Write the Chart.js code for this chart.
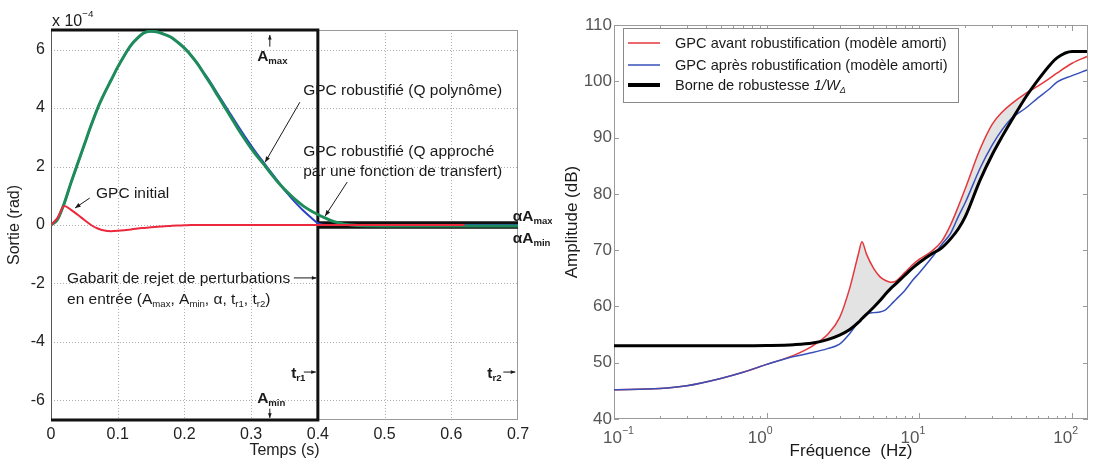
<!DOCTYPE html>
<html lang="fr">
<head>
    <meta charset="UTF-8">
    <title>GPC robustifié - gabarit et borne de robustesse</title>
    <script src="https://cdn.jsdelivr.net/npm/chart.js"></script>
    <style>
        body {
            margin: 0;
            background: #fff;
            width: 1096px;
            height: 462px;
            overflow: hidden;
            position: relative;
        }

        canvas {
            position: absolute;
            top: 0;
        }

        #timeChart { left: 0; }
        #freqChart { left: 552px; }
    </style>
</head>
<body>
    <canvas id="timeChart" width="552" height="462"></canvas>
    <canvas id="freqChart" width="544" height="462"></canvas>

    <script>
        // ---- left: time response (values in 1e-4 rad) ----
        const times = [0, 0.01, 0.02, 0.03, 0.04, 0.05, 0.06, 0.07, 0.08, 0.09,
            0.10, 0.11, 0.12, 0.13, 0.14, 0.15, 0.16, 0.17, 0.18, 0.19,
            0.20, 0.21, 0.22, 0.23, 0.24, 0.25, 0.26, 0.27, 0.28, 0.29,
            0.30, 0.31, 0.32, 0.33, 0.34, 0.35, 0.36, 0.37, 0.38, 0.39,
            0.40, 0.41, 0.42, 0.43, 0.44, 0.45, 0.50, 0.55, 0.60, 0.62, 0.65, 0.70];

        const gpcInitial = [0, 0.25, 0.65, 0.52, 0.35, 0.17, 0, -0.12, -0.19, -0.21,
            -0.2, -0.18, -0.15, -0.12, -0.1, -0.08, -0.06, -0.04, -0.03, -0.02,
            -0.01, 0, 0, 0, 0, 0, 0, 0, 0, 0,
            0, 0, 0, 0, 0, 0, 0, 0, 0, 0,
            0, 0, 0, 0, 0, 0, 0, 0, 0, 0, null, null];

        const gpcPolynome = [0, 0.2, 0.75, 1.45, 2.1, 2.75, 3.4, 4.0, 4.5, 4.95,
            5.4, 5.8, 6.15, 6.4, 6.58, 6.63, 6.6, 6.52, 6.42, 6.25,
            6.05, 5.8, 5.5, 5.18, 4.85, 4.48, 4.12, 3.76, 3.4, 3.05,
            2.72, 2.4, 2.1, 1.8, 1.5, 1.2, 0.93, 0.68, 0.45, 0.25,
            0.06, 0, 0, 0, 0, 0, 0, 0, 0, 0, 0, 0];

        const gpcTransfert = [0, 0.2, 0.75, 1.45, 2.1, 2.75, 3.4, 4.0, 4.5, 4.95,
            5.4, 5.8, 6.15, 6.4, 6.58, 6.63, 6.6, 6.52, 6.42, 6.25,
            6.05, 5.8, 5.5, 5.15, 4.8, 4.42, 4.05, 3.68, 3.3, 2.95,
            2.62, 2.32, 2.05, 1.75, 1.47, 1.22, 1.0, 0.8, 0.62, 0.48,
            0.36, 0.25, 0.15, 0.08, 0.03, 0, -0.03, -0.03, -0.03, -0.03, -0.03, -0.03];

        // gabarit (A_max, A_min, alpha*A_max, alpha*A_min, t_r1, t_r2)
        const gabTimes = [0, 0.4, 0.4, 0.7];
        const gabUpper = [6.67, 6.67, 0.08, 0.08];
        const gabLower = [-6.67, -6.67, -0.08, -0.08];

        const timeTicks = [0, 0.1, 0.2, 0.3, 0.4, 0.5, 0.6, 0.7];
        const sortieTicks = [-6, -4, -2, 0, 2, 4, 6];

        // ---- right: frequency response (dB) ----
        const freqs = [0.1, 0.2, 0.3, 0.5, 0.7, 1, 1.5, 2, 2.5, 3, 3.5, 4, 4.2, 4.5, 5, 5.5, 6, 6.5, 7,
            8, 9, 10, 12, 14, 16, 18, 20, 25, 30, 35, 40, 50, 60, 70, 80, 100, 125];

        const avantRob = [45.2, 45.4, 45.9, 47.2, 48.3, 49.7, 51.3, 53.0, 55.0, 58.0, 63.3, 69.5, 71.5, 69.3, 66.8, 65.3, 64.6, 64.3, 64.5,
            66.0, 67.4, 68.4, 69.8, 71.6, 74.5, 77.8, 81.0, 88.0, 92.4, 94.6, 96.0, 97.9, 99.2, 100.4, 101.5, 103.2, 104.4];

        const apresRob = [45.2, 45.4, 45.9, 47.2, 48.3, 49.7, 51.1, 51.8, 52.5, 53.3, 55.2, 57.3, 57.9, 58.6, 58.9, 59.0, 59.4, 60.3, 61.2,
            62.8, 64.6, 66.0, 68.6, 71.0, 73.0, 76.0, 78.5, 84.6, 88.7, 91.5, 93.4, 95.3, 97.1, 98.5, 99.9, 101.0, 102.0];

        const borne = [53, 53, 53, 53, 53, 53.05, 53.2, 53.5, 54.1, 54.9, 55.9, 57.2, 57.8, 58.6, 59.8, 61.0, 62.2, 63.2, 64.0,
            65.5, 66.8, 67.8, 69.3, 70.4, 72.0, 73.8, 76.0, 82.5, 87.0, 90.3, 93.0, 97.3, 100.3, 102.6, 104.2, 105.3, 105.3];

        const seriesLabels = ['GPC avant robustification (modèle amorti)',
            'GPC après robustification (modèle amorti)',
            'Borne de robustesse 1/WΔ'];

        const freqDecades = [0.1, 1, 10, 100];
        const freqExponents = ['−1', '0', '1', '2'];
        const ampTicks = [40, 50, 60, 70, 80, 90, 100, 110];

        const FONT = 'Arial, "Liberation Sans", Helvetica, sans-serif';

        // draws text pieces: flags b=bold i=italic _=subscript ^=superscript
        function rich(ctx, x, y, parts, size, draw = true) {
            let cx = x;
            for (const [txt, f] of parts) {
                const small = f.includes('_') || f.includes('^');
                const fs = small ? size * 0.62 : size;
                ctx.font = (f.includes('i') ? 'italic ' : '') + (f.includes('b') ? 'bold ' : '') + fs.toFixed(1) + 'px ' + FONT;
                const dy = f.includes('_') ? size * 0.2 : f.includes('^') ? -size * 0.55 : 0;
                if (draw) ctx.fillText(txt, cx, y + dy);
                cx += ctx.measureText(txt).width;
            }
            return cx - x;
        }

        function arrow(ctx, x1, y1, x2, y2, head = 6) {
            ctx.beginPath();
            ctx.moveTo(x1, y1);
            ctx.lineTo(x2, y2);
            ctx.stroke();
            const a = Math.atan2(y2 - y1, x2 - x1);
            ctx.beginPath();
            ctx.moveTo(x2, y2);
            ctx.lineTo(x2 - head * Math.cos(a - 0.38), y2 - head * Math.sin(a - 0.38));
            ctx.lineTo(x2 - head * Math.cos(a + 0.38), y2 - head * Math.sin(a + 0.38));
            ctx.closePath();
            ctx.fill();
        }

        // frame around the plot, dotted grid (left) or inward ticks (right)
        const framePlugin = {
            id: 'frame',
            beforeDatasetsDraw(chart, args, opts) {
                const { ctx, chartArea: a, scales: { x, y } } = chart;
                ctx.save();
                if (opts.grid) {
                    ctx.strokeStyle = 'rgba(0,0,0,0.32)';
                    ctx.lineWidth = 1;
                    ctx.setLineDash([1, 2]);
                    ctx.beginPath();
                    x.ticks.forEach(t => {
                        const px = Math.round(x.getPixelForValue(t.value)) + 0.5;
                        if (px > a.left + 2 && px < a.right - 2) { ctx.moveTo(px, a.top); ctx.lineTo(px, a.bottom); }
                    });
                    y.ticks.forEach(t => {
                        const py = Math.round(y.getPixelForValue(t.value)) + 0.5;
                        if (py > a.top + 2 && py < a.bottom - 2) { ctx.moveTo(a.left, py); ctx.lineTo(a.right, py); }
                    });
                    ctx.stroke();
                    ctx.setLineDash([]);
                }
                ctx.strokeStyle = opts.color;
                ctx.lineWidth = 1;
                if (opts.ticks) {
                    ctx.beginPath();
                    x.ticks.forEach(t => {
                        const px = Math.round(x.getPixelForValue(t.value)) + 0.5;
                        const len = freqDecades.includes(t.value) ? 6 : 3;
                        ctx.moveTo(px, a.bottom); ctx.lineTo(px, a.bottom - len);
                        ctx.moveTo(px, a.top); ctx.lineTo(px, a.top + len);
                    });
                    y.ticks.forEach(t => {
                        const py = Math.round(y.getPixelForValue(t.value)) + 0.5;
                        ctx.moveTo(a.left, py); ctx.lineTo(a.left + 5, py);
                        ctx.moveTo(a.right, py); ctx.lineTo(a.right - 5, py);
                    });
                    ctx.stroke();
                }
                ctx.strokeRect(Math.round(a.left) + 0.5, Math.round(a.top) + 0.5, Math.round(a.width) - 1, Math.round(a.height) - 1);
                if (opts.leftColor) {
                    ctx.strokeStyle = opts.leftColor;
                    ctx.beginPath();
                    ctx.moveTo(Math.round(a.left) + 0.5, a.top);
                    ctx.lineTo(Math.round(a.left) + 0.5, a.bottom);
                    ctx.stroke();
                }
                ctx.restore();
            }
        };

        // text annotations of the time plot
        const timeNotes = {
            id: 'timeNotes',
            afterDatasetsDraw(chart) {
                const { ctx, scales: { x, y } } = chart;
                const X = t => x.getPixelForValue(t);
                const Y = v => y.getPixelForValue(v);
                const S = 15.5;
                ctx.save();
                ctx.fillStyle = '#1a1a1a';
                ctx.strokeStyle = '#1a1a1a';
                ctx.lineWidth = 1;
                ctx.textAlign = 'left';
                ctx.textBaseline = 'alphabetic';

                rich(ctx, X(0.0015), Y(6.82), [['x 10', ''], ['−4', '^']], 16);

                rich(ctx, X(0.0675), Y(0.94), [['GPC initial', '']], S);
                arrow(ctx, X(0.058), Y(0.92), X(0.036), Y(0.58));

                rich(ctx, X(0.378), Y(4.43), [['GPC robustifié (Q polynôme)', '']], S);
                arrow(ctx, X(0.373), Y(4.2), X(0.321), Y(2.15));

                rich(ctx, X(0.378), Y(2.37), [['GPC robustifié (Q approché', '']], S);
                rich(ctx, X(0.378), Y(1.69), [['par une fonction de transfert)', '']], S);
                arrow(ctx, X(0.444), Y(1.47), X(0.411), Y(0.31));

                rich(ctx, X(0.692), Y(0.15), [['αA', 'b'], ['max', 'b_']], S);
                rich(ctx, X(0.692), Y(-0.62), [['αA', 'b'], ['min', 'b_']], S);

                rich(ctx, X(0.309), Y(5.62), [['A', 'b'], ['max', 'b_']], S);
                arrow(ctx, X(0.328), Y(6.1), X(0.328), Y(6.5), 5);
                rich(ctx, X(0.309), Y(-6.1), [['A', 'b'], ['min', 'b_']], S);
                arrow(ctx, X(0.328), Y(-6.28), X(0.328), Y(-6.6), 5);

                rich(ctx, X(0.024), Y(-1.97), [['Gabarit de rejet de perturbations', '']], S);
                arrow(ctx, X(0.364), Y(-1.81), X(0.398), Y(-1.81), 5);
                rich(ctx, X(0.024), Y(-2.69), [['en entrée (A', ''], ['max', '_'], [', A', ''], ['min', '_'],
                    [', α, t', ''], ['r1', '_'], [', t', ''], ['r2', '_'], [')', '']], S);

                rich(ctx, X(0.36), Y(-5.22), [['t', 'b'], ['r1', 'b_']], S);
                arrow(ctx, X(0.379), Y(-5.03), X(0.397), Y(-5.03), 5);
                rich(ctx, X(0.654), Y(-5.22), [['t', 'b'], ['r2', 'b_']], S);
                arrow(ctx, X(0.678), Y(-5.03), X(0.696), Y(-5.03), 5);
                ctx.restore();
            }
        };

        // legend box and decade labels of the frequency plot
        const freqNotes = {
            id: 'freqNotes',
            afterDraw(chart) {
                const { ctx, chartArea: a, scales: { x } } = chart;
                ctx.save();
                ctx.textAlign = 'left';
                ctx.textBaseline = 'alphabetic';

                // decade labels 10^n
                ctx.fillStyle = '#555';
                freqDecades.forEach((d, i) => {
                    const parts = [['10', ''], [freqExponents[i], '^']];
                    ctx.font = '17px ' + FONT;
                    const w10 = ctx.measureText('10').width;
                    let left = x.getPixelForValue(d) - w10;
                    if (left < a.left - 11) left = a.left - 11;
                    rich(ctx, left, a.bottom + 24, parts, 17);
                });

                // legend
                const bx = a.left + 9, by = a.top + 3, bw = 335, bh = 74;
                ctx.fillStyle = '#fff';
                ctx.fillRect(bx, by, bw, bh);
                ctx.strokeStyle = '#8a8a8a';
                ctx.lineWidth = 1;
                ctx.strokeRect(bx + 0.5, by + 0.5, bw, bh);
                const rows = [15, 37, 57];
                chart.data.datasets.forEach((ds, i) => {
                    const ry = by + rows[i];
                    ctx.strokeStyle = ds.borderColor;
                    ctx.lineWidth = i === 2 ? 4 : 1.5;
                    ctx.beginPath();
                    ctx.moveTo(bx + 5, ry);
                    ctx.lineTo(bx + 37, ry);
                    ctx.stroke();
                    ctx.fillStyle = '#1a1a1a';
                    const k = ds.label.indexOf('1/W');
                    const parts = k < 0 ? [[ds.label, '']]
                        : [[ds.label.slice(0, k), ''], ['1/W', 'i'], [ds.label.slice(k + 3), 'i_']];
                    rich(ctx, bx + 52, ry + 5, parts, 14.6);
                });
                ctx.restore();
            }
        };

        const pts = (xs, ys) => xs.map((v, i) => ({ x: v, y: ys[i] }));

        // ---- time chart ----
        new Chart(document.getElementById('timeChart'), {
            type: 'line',
            data: {
                datasets: [
                    {
                        label: 'GPC initial',
                        data: pts(times, gpcInitial),
                        borderColor: 'rgb(235,40,60)',
                        borderWidth: 2,
                        cubicInterpolationMode: 'monotone',
                        order: 1
                    },
                    {
                        label: 'GPC robustifié (Q approché par une fonction de transfert)',
                        data: pts(times, gpcTransfert),
                        borderColor: 'rgb(30,140,90)',
                        borderWidth: 3,
                        cubicInterpolationMode: 'monotone',
                        order: 2
                    },
                    {
                        label: 'GPC robustifié (Q polynôme)',
                        data: pts(times, gpcPolynome),
                        borderColor: 'rgb(45,65,200)',
                        borderWidth: 2,
                        cubicInterpolationMode: 'monotone',
                        order: 3
                    },
                    {
                        label: 'Gabarit haut',
                        data: pts(gabTimes, gabUpper),
                        borderColor: '#111',
                        borderWidth: 3,
                        tension: 0,
                        clip: false,
                        order: 4
                    },
                    {
                        label: 'Gabarit bas',
                        data: pts(gabTimes, gabLower),
                        borderColor: '#111',
                        borderWidth: 3,
                        tension: 0,
                        clip: false,
                        order: 5
                    }
                ]
            },
            options: {
                responsive: false,
                animation: false,
                layout: { padding: { top: 30, right: 34, left: 0, bottom: 0 } },
                elements: { point: { radius: 0 } },
                plugins: {
                    legend: { display: false },
                    tooltip: { enabled: false },
                    frame: { color: '#9a9a9a', leftColor: '#555', grid: true, ticks: false }
                },
                scales: {
                    x: {
                        type: 'linear',
                        min: timeTicks[0],
                        max: timeTicks[timeTicks.length - 1],
                        afterBuildTicks: s => { s.ticks = timeTicks.map(v => ({ value: v })); },
                        afterFit: s => { s.height = 42; },
                        grid: { display: false, drawTicks: false },
                        border: { display: false },
                        ticks: {
                            padding: 5,
                            color: '#222',
                            font: { family: FONT, size: 16 },
                            callback: v => String(v)
                        },
                        title: {
                            display: true,
                            text: 'Temps (s)',
                            color: '#222',
                            font: { family: FONT, size: 16 },
                            padding: { top: 0, bottom: 2 }
                        }
                    },
                    y: {
                        min: gabLower[0],
                        max: gabUpper[0],
                        afterBuildTicks: s => { s.ticks = sortieTicks.map(v => ({ value: v })); },
                        afterFit: s => { s.width = 51; },
                        grid: { display: false, drawTicks: false },
                        border: { display: false },
                        ticks: {
                            padding: 6,
                            color: '#222',
                            font: { family: FONT, size: 16 },
                            callback: v => String(v)
                        },
                        title: {
                            display: true,
                            text: 'Sortie (rad)',
                            color: '#222',
                            font: { family: FONT, size: 16 },
                            padding: { top: 5, bottom: 0 }
                        }
                    }
                }
            },
            plugins: [framePlugin, timeNotes]
        });

        // ---- frequency chart ----
        const minorFreqTicks = [];
        freqDecades.forEach(d => {
            for (let k = 1; k <= 9; k++) {
                const v = Number((d * k).toPrecision(3));
                if (v <= 127) minorFreqTicks.push(v);
            }
        });

        new Chart(document.getElementById('freqChart'), {
            type: 'line',
            data: {
                datasets: [
                    {
                        label: seriesLabels[0],
                        data: pts(freqs, avantRob),
                        borderColor: 'rgb(228,55,60)',
                        borderWidth: 1.5,
                        cubicInterpolationMode: 'monotone',
                        fill: { target: 2, above: '#e3e3e3', below: 'rgba(0,0,0,0)' },
                        order: 3
                    },
                    {
                        label: seriesLabels[1],
                        data: pts(freqs, apresRob),
                        borderColor: 'rgb(55,80,185)',
                        borderWidth: 1.5,
                        cubicInterpolationMode: 'monotone',
                        order: 2
                    },
                    {
                        label: seriesLabels[2],
                        data: pts(freqs, borne),
                        borderColor: '#000',
                        borderWidth: 3,
                        cubicInterpolationMode: 'monotone',
                        order: 1
                    }
                ]
            },
            options: {
                responsive: false,
                animation: false,
                layout: { padding: { top: 25, right: 8, left: 0, bottom: 0 } },
                elements: { point: { radius: 0 } },
                plugins: {
                    legend: { display: false },
                    tooltip: { enabled: false },
                    frame: { color: '#9a9a9a', grid: false, ticks: true }
                },
                scales: {
                    x: {
                        type: 'logarithmic',
                        min: 0.1,
                        max: 127,
                        afterBuildTicks: s => { s.ticks = minorFreqTicks.map(v => ({ value: v })); },
                        afterFit: s => { s.height = 43; },
                        grid: { display: false, drawTicks: false },
                        border: { display: false },
                        ticks: { display: false, autoSkip: false },
                        title: {
                            display: true,
                            text: 'Fréquence  (Hz)',
                            color: '#1a1a1a',
                            font: { family: FONT, size: 17 },
                            padding: { top: 0, bottom: 0 }
                        }
                    },
                    y: {
                        min: ampTicks[0],
                        max: ampTicks[ampTicks.length - 1],
                        afterBuildTicks: s => { s.ticks = ampTicks.map(v => ({ value: v })); },
                        afterFit: s => { s.width = 62; },
                        grid: { display: false, drawTicks: false },
                        border: { display: false },
                        ticks: {
                            padding: 2,
                            color: '#555',
                            font: { family: FONT, size: 17 }
                        },
                        title: {
                            display: true,
                            text: 'Amplitude (dB)',
                            color: '#1a1a1a',
                            font: { family: FONT, size: 17 },
                            padding: { top: 10, bottom: 0 }
                        }
                    }
                }
            },
            plugins: [framePlugin, freqNotes]
        });
    </script>
</body>
</html>
